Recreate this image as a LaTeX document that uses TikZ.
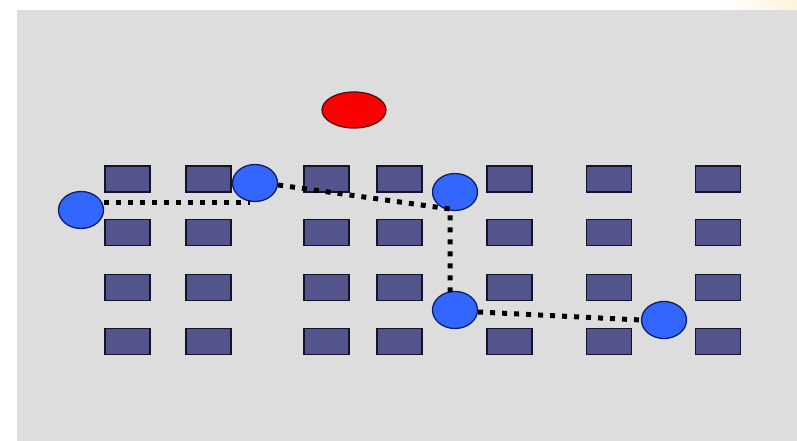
\documentclass[tikz,border=0pt]{standalone}
\usetikzlibrary{shapes.geometric}
\definecolor{bggray}{RGB}{221,221,221}
\definecolor{boxfill}{RGB}{84,84,140}
\definecolor{boxline}{RGB}{20,20,40}
\definecolor{nodeblue}{RGB}{51,102,255}
\definecolor{nodeline}{RGB}{15,30,100}
\definecolor{nodered}{RGB}{250,0,0}
\definecolor{redline}{RGB}{90,10,10}
\definecolor{cream}{RGB}{255,243,220}
\tikzset{
  cell/.style={draw=boxline, fill=boxfill, line width=1.5pt, minimum width=45pt, minimum height=26pt, inner sep=0pt, outer sep=0pt},
  bluenode/.style={ellipse, draw=nodeline, fill=nodeblue, line width=1.3pt, minimum width=45pt, minimum height=37pt, inner sep=0pt},
  rednode/.style={ellipse, draw=redline, fill=nodered, line width=1.3pt, minimum width=64pt, minimum height=36pt, inner sep=0pt},
  route/.style={line width=5pt, dash pattern=on 5pt off 7pt, black}
}
\begin{document}
\begin{tikzpicture}[x=1pt,y=-1pt]
\useasboundingbox (0,0) rectangle (797,441);
\fill[white] (0,0) rectangle (797,441);
\shade[left color=white, right color=cream] (720,0) rectangle (797,10);
\fill[bggray] (17,10) rectangle (797,441);
% grid of boxes
\foreach \cx [count=\i] in {127.5,208.5,326.5,399.5,509.5,609,718}{
  \foreach \cy [count=\j] in {179,232.5,287.5,341.5}{
    \node[cell] (b\i\j) at (\cx,\cy) {};
  }
}
% red node
\node[rednode] (r) at (354,110) {};
% blue nodes
\node[bluenode] (n1) at (81,210) {};
\node[bluenode] (n2) at (255,183) {};
\node[bluenode] (n3) at (455,192) {};
\node[bluenode] (n4) at (455,310) {};
\node[bluenode] (n5) at (664,320) {};
% route corners
\coordinate (c1) at (250,202);
\coordinate (c2) at (450,209);
\coordinate (c3) at (450,292);
% routes
\draw[route] (n1.east |- c1) -- (c1);
\draw[route] (n2.east) ++(0,2) -- (c2) -- (c3);
\draw[route] (n4.east) ++(0,2) -- (n5.west);
\end{tikzpicture}
\end{document}
